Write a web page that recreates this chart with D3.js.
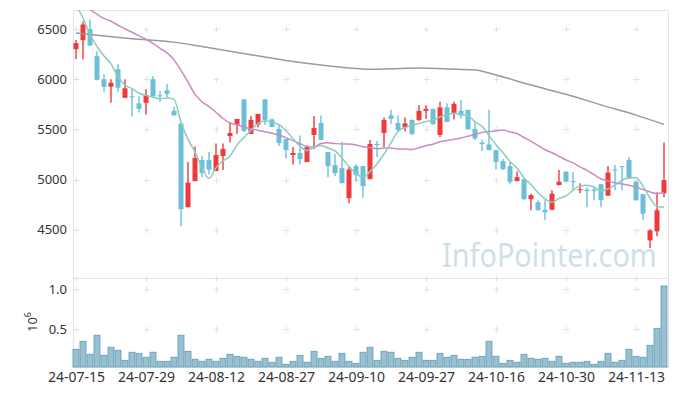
<!DOCTYPE html>
<html>
<head>
<meta charset="utf-8">
<script src="https://cdn.jsdelivr.net/npm/d3@7"></script>
<style>
  body { margin: 0; background: #fff; }
  svg text { font-family: "Noto Sans", sans-serif; }
</style>
</head>
<body>
<svg id="chart" width="677" height="396"></svg>
<script>
var dates = [
  "24-07-15","24-07-16","24-07-17","24-07-18","24-07-19","24-07-22","24-07-23","24-07-24","24-07-25","24-07-26",
  "24-07-29","24-07-30","24-07-31","24-08-01","24-08-02","24-08-05","24-08-06","24-08-07","24-08-08","24-08-09",
  "24-08-12","24-08-13","24-08-14","24-08-16","24-08-19","24-08-20","24-08-21","24-08-22","24-08-23","24-08-26",
  "24-08-27","24-08-28","24-08-29","24-08-30","24-09-02","24-09-03","24-09-04","24-09-05","24-09-06","24-09-09",
  "24-09-10","24-09-11","24-09-12","24-09-13","24-09-19","24-09-20","24-09-23","24-09-24","24-09-25","24-09-26",
  "24-09-27","24-09-30","24-10-02","24-10-04","24-10-07","24-10-08","24-10-10","24-10-11","24-10-14","24-10-15",
  "24-10-16","24-10-17","24-10-18","24-10-21","24-10-22","24-10-23","24-10-24","24-10-25","24-10-28","24-10-29",
  "24-10-30","24-10-31","24-11-01","24-11-04","24-11-05","24-11-06","24-11-07","24-11-08","24-11-11","24-11-12",
  "24-11-13","24-11-14","24-11-15","24-11-18","24-11-19"
];
var opens = [
  6300,6390,6500,6230,6000,5925,6100,5815,5830,5760,
  5765,6000,5840,5890,5685,5560,4725,4985,5195,5195,
  5085,5235,5435,5545,5800,5455,5550,5800,5600,5505,
  5405,5245,5265,5175,5445,5565,5275,5145,5115,4815,
  5135,5135,5005,5355,5465,5640,5565,5520,5595,5595,
  5685,5705,5445,5720,5665,5685,5695,5505,5370,5350,
  5295,5185,5135,4985,5005,4805,4775,4700,4700,4945,
  5080,4985,4895,4900,4900,4955,4840,5100,5135,5195,
  4980,4855,4395,4485,4865
];
var highs = [
  6390,6575,6595,6280,6050,6000,6150,6000,5900,5830,
  5900,6030,5880,5955,5725,5560,5175,5330,5235,5275,
  5360,5360,5575,5605,5800,5635,5655,5800,5610,5545,
  5405,5325,5440,5340,5635,5640,5275,5255,5375,5125,
  5155,5135,5395,5385,5620,5695,5640,5620,5600,5740,
  5740,5705,5775,5760,5775,5795,5695,5575,5400,5695,
  5295,5205,5175,5080,5005,4860,4795,4795,4895,5095,
  5080,5075,4965,4925,4925,4955,5135,5145,5135,5225,
  4985,4855,4505,4875,5370
];
var lows = [
  6200,6200,6335,5990,5875,5765,5875,5815,5630,5670,
  5650,5830,5775,5820,5640,4535,4725,4985,5025,5050,
  5085,5095,5370,5455,5475,5455,5520,5545,5520,5335,
  5210,5150,5150,5175,5305,5395,5025,5035,4965,4765,
  4985,4820,5005,5225,5325,5555,5475,5480,5445,5583,
  5605,5545,5425,5575,5600,5610,5500,5395,5285,5290,
  5100,5095,4960,4985,4800,4695,4690,4595,4700,4945,
  4975,4895,4865,4725,4795,4725,4840,4895,4895,5005,
  4790,4600,4320,4435,4825
];
var closes = [
  6360,6545,6335,5995,5925,5965,5915,5910,5820,5705,
  5840,5830,5835,5855,5640,4705,4970,5215,5065,5100,
  5245,5305,5465,5605,5485,5595,5655,5595,5525,5365,
  5295,5265,5205,5325,5515,5395,5135,5065,4965,5100,
  5045,4935,5355,5345,5595,5605,5495,5560,5455,5685,
  5705,5555,5720,5575,5755,5640,5500,5410,5355,5295,
  5175,5105,4975,5025,4805,4845,4695,4675,4860,4980,
  4980,4975,4905,4885,4885,4795,5070,5090,5125,5010,
  4795,4660,4495,4695,4995
];
// volume in millions of shares
var volumes = [
  0.252,0.351,0.190,0.426,0.177,0.277,0.239,0.115,0.215,0.202,
  0.153,0.215,0.103,0.103,0.153,0.426,0.227,0.128,0.103,0.128,
  0.103,0.140,0.190,0.165,0.153,0.128,0.103,0.140,0.091,0.153,
  0.066,0.103,0.177,0.091,0.227,0.140,0.165,0.103,0.202,0.103,
  0.078,0.215,0.277,0.115,0.227,0.215,0.140,0.115,0.153,0.215,
  0.115,0.115,0.202,0.153,0.177,0.128,0.128,0.153,0.165,0.351,
  0.165,0.078,0.115,0.091,0.190,0.140,0.128,0.140,0.103,0.165,
  0.078,0.091,0.091,0.103,0.066,0.103,0.202,0.091,0.115,0.252,
  0.165,0.153,0.301,0.512,1.037
];
var ma5 = [
  6740,6610,6443,6326,6232,6153,6027,5942,5907,5863,
  5838,5821,5806,5813,5800,5573,5401,5277,5119,5011,
  5119,5186,5236,5344,5421,5491,5561,5587,5571,5547,
  5487,5409,5331,5291,5321,5341,5315,5287,5215,5132,
  5062,5022,5080,5156,5255,5367,5479,5520,5542,5560,
  5580,5592,5624,5648,5662,5649,5638,5576,5532,5440,
  5347,5268,5181,5115,5017,4951,4869,4809,4776,4811,
  4838,4894,4940,4945,4926,4889,4908,4945,4993,5018,
  5018,4936,4817,4731,4728
];
var ma20 = [
  6790,6740,6693,6648,6606,6578,6538,6503,6468,6433,
  6398,6358,6308,6263,6193,6088,5973,5850,5776,5727,
  5671,5609,5565,5546,5524,5505,5492,5477,5462,5445,
  5418,5389,5358,5331,5325,5360,5368,5360,5355,5355,
  5345,5327,5321,5308,5314,5314,5306,5305,5301,5317,
  5338,5352,5378,5390,5402,5415,5433,5450,5470,5479,
  5486,5494,5475,5459,5420,5382,5342,5298,5268,5233,
  5196,5167,5127,5092,5049,5006,4985,4969,4957,4943,
  4924,4902,4878,4861,4871
];
// long moving average, read at [candle index, value]
var ma120 = [
  [0,6460],[3,6438],[8,6404],[14,6370],[18,6326],[22,6280],[25,6244],
  [30,6187],[35,6142],[40,6108],[42,6100],[45,6105],[49,6112],[53,6102],
  [57,6093],[60,6043],[65,5942],[70,5850],[75,5745],[80,5643],[84,5550]
];
var priceTicks = [4500, 5000, 5500, 6000, 6500];
var volumeTicks = [0.5, 1.0];
var dateTickIndex = [0, 10, 20, 30, 40, 50, 60, 70, 80];

var colors = {
  up: "#ee3a3a",
  down: "#6bc0d8",
  ma5: "#8ccbbd",
  ma20: "#c98bc3",
  ma120: "#9a9a9a",
  volFill: "#99c0d1",
  volStroke: "#5f9bb5",
  frame: "#e4e4e4",
  cross: "#e2e2e2",
  text: "#333"
};

var svg = d3.select("#chart");
var plot = { left: 73, right: 668, top: 10, priceBottom: 278, volBottom: 367 };

var x = d3.scaleLinear().domain([0, dates.length - 1]).range([76, 664]);
var yPrice = d3.scaleLinear().domain([4020, 6690]).range([plot.priceBottom, plot.top]);
var yVol = d3.scaleLinear().domain([0.032, 1.136]).range([plot.volBottom, plot.priceBottom]);

svg.append("defs")
  .append("clipPath")
  .attr("id", "clip-price")
  .append("rect")
  .attr("x", plot.left)
  .attr("y", plot.top)
  .attr("width", plot.right - plot.left)
  .attr("height", plot.priceBottom - plot.top);

// watermark, squeezed horizontally to the reference width
svg.append("text")
  .attr("transform", "translate(442,267) scale(0.9,1)")
  .style("font-size", "32px")
  .style("fill", "#cfdfe8")
  .text("InfoPointer.com");

// frames
svg.append("rect")
  .attr("x", plot.left + 0.5).attr("y", plot.top + 0.5)
  .attr("width", plot.right - plot.left).attr("height", plot.priceBottom - plot.top)
  .style("fill", "none").style("stroke", colors.frame);
svg.append("rect")
  .attr("x", plot.left + 0.5).attr("y", plot.priceBottom + 0.5)
  .attr("width", plot.right - plot.left).attr("height", plot.volBottom - plot.priceBottom)
  .style("fill", "none").style("stroke", colors.frame);

// grid crosses
var crossX = dateTickIndex.map(function(i) { return x(i); });
var crossRows = priceTicks.map(function(v) { return yPrice(v); })
  .concat([plot.priceBottom])
  .concat(volumeTicks.map(function(v) { return yVol(v); }));
var crosses = [];
crossX.forEach(function(cx) {
  crossRows.forEach(function(cy) { crosses.push([cx, cy]); });
});
svg.append("g")
  .selectAll("path")
  .data(crosses)
  .enter()
  .append("path")
  .attr("d", function(d) {
    var cx = Math.round(d[0]) + 0.5, cy = Math.round(d[1]) + 0.5;
    return "M" + (cx - 3) + "," + cy + "H" + (cx + 3) + "M" + cx + "," + (cy - 3) + "V" + (cy + 3);
  })
  .style("stroke", colors.cross)
  .style("stroke-width", 1);

// volume bars
svg.append("g")
  .selectAll("rect")
  .data(volumes)
  .enter()
  .append("rect")
  .attr("x", function(d, i) { return x(i) - 3; })
  .attr("y", function(d) { return yVol(d); })
  .attr("width", 6)
  .attr("height", function(d) { return plot.volBottom - yVol(d); })
  .style("fill", colors.volFill)
  .style("stroke", colors.volStroke)
  .style("stroke-width", 0.8);

// candles
var candles = svg.append("g").attr("clip-path", "url(#clip-price)")
  .selectAll("g")
  .data(dates.map(function(d, i) {
    return { date: d, i: i, o: opens[i], h: highs[i], l: lows[i], c: closes[i] };
  }))
  .enter()
  .append("g");
candles.append("line")
  .attr("x1", function(d) { return x(d.i); })
  .attr("x2", function(d) { return x(d.i); })
  .attr("y1", function(d) { return yPrice(d.h); })
  .attr("y2", function(d) { return yPrice(d.l); })
  .style("stroke", function(d) { return d.c >= d.o ? colors.up : colors.down; })
  .style("stroke-width", 1.4);
candles.append("rect")
  .attr("x", function(d) { return x(d.i) - 2.5; })
  .attr("width", 5)
  .attr("y", function(d) { return yPrice(Math.max(d.o, d.c)); })
  .attr("height", function(d) { return Math.max(1, Math.abs(yPrice(d.o) - yPrice(d.c))); })
  .style("fill", function(d) { return d.c >= d.o ? colors.up : colors.down; });

// moving averages
var lineGroup = svg.append("g").attr("clip-path", "url(#clip-price)");
var seriesLine = d3.line()
  .x(function(d, i) { return x(i); })
  .y(function(d) { return yPrice(d); })
  .curve(d3.curveMonotoneX);
lineGroup.append("path")
  .attr("d", d3.line()
    .x(function(d) { return x(d[0]); })
    .y(function(d) { return yPrice(d[1]); })
    .curve(d3.curveMonotoneX)(ma120))
  .style("fill", "none").style("stroke", colors.ma120).style("stroke-width", 1.5);
lineGroup.append("path")
  .attr("d", seriesLine(ma20))
  .style("fill", "none").style("stroke", colors.ma20).style("stroke-width", 1.5);
lineGroup.append("path")
  .attr("d", seriesLine(ma5))
  .style("fill", "none").style("stroke", colors.ma5).style("stroke-width", 1.5);

// axes
var styleAxis = function(size) {
  return function(g) {
    g.select(".domain").remove();
    g.selectAll("text").style("font-size", size).style("fill", colors.text);
  };
};
svg.append("g")
  .attr("transform", "translate(" + plot.left + ",0)")
  .call(d3.axisLeft(yPrice).tickValues(priceTicks).tickFormat(d3.format("d")).tickSize(0).tickPadding(6))
  .call(styleAxis("13px"));
svg.append("g")
  .attr("transform", "translate(" + plot.left + ",0)")
  .call(d3.axisLeft(yVol).tickValues(volumeTicks).tickFormat(d3.format(".1f")).tickSize(0).tickPadding(6))
  .call(styleAxis("13px"));
svg.append("g")
  .attr("transform", "translate(0," + plot.volBottom + ")")
  .call(d3.axisBottom(x).tickValues(dateTickIndex)
    .tickFormat(function(i) { return dates[i]; }).tickSize(0).tickPadding(5))
  .call(styleAxis("14px"));

// volume unit label
var unit = svg.append("text")
  .attr("transform", "translate(37,322) rotate(-90)")
  .attr("text-anchor", "middle")
  .style("font-size", "13px")
  .style("fill", colors.text);
unit.append("tspan").text("10");
unit.append("tspan").attr("dy", -6).style("font-size", "9px").text("6");
</script>
</body>
</html>
